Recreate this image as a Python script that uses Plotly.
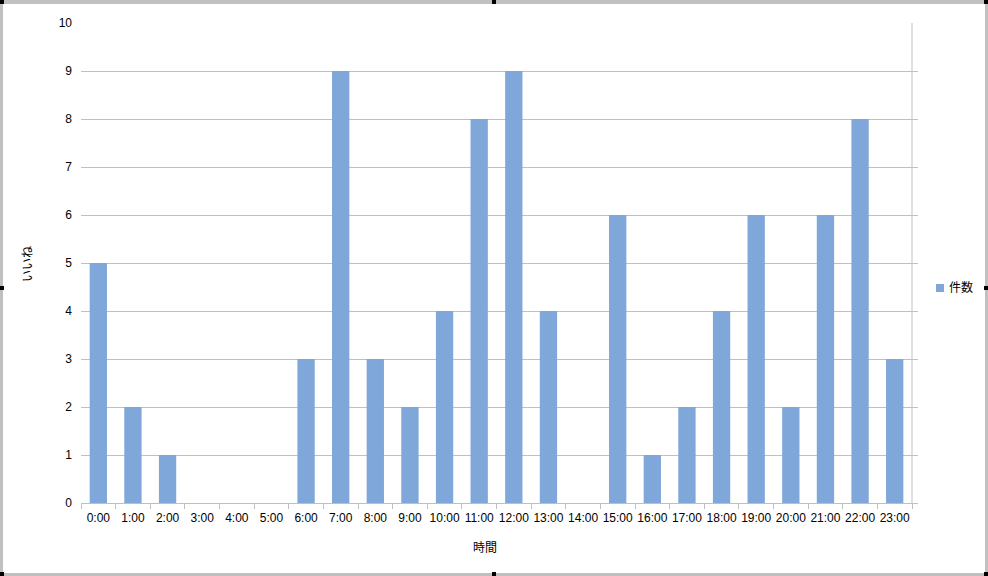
import plotly.graph_objects as go

hours = [f"{h}:00" for h in range(24)]
counts = [5, 2, 1, 0, 0, 0, 3, 9, 3, 2, 4, 8, 9, 4, 0, 6, 1, 2, 4, 6, 2, 6, 8, 3]
series_name = "件数"
x_title = "時間"
y_title = "いいね"
y_ticks = list(range(0, 11))

W, H = 988, 576
L, R, T, B = 81, 918, 23, 503
bar_color = "#7FA7D9"
grid = "#BFBFBF"
font_family = "Liberation Sans, Arial, Noto Sans CJK JP, sans-serif"


def px(x):
    return (x - L) / (R - L)


def py(y):
    return (B - y) / (B - T)


fig = go.Figure()
fig.add_trace(go.Bar(x=hours, y=counts, name=series_name, marker=dict(color=bar_color, line=dict(width=0)),
                     showlegend=False))

shapes = []
# right-side vertical frame line of plot area
shapes.append(dict(type="line", xref="x", yref="y", x0=23.5, x1=23.5, y0=0, y1=10,
                   line=dict(color=grid, width=1)))
# legend symbol
shapes.append(dict(type="rect", xref="paper", yref="paper", x0=px(936), x1=px(944), y0=py(292), y1=py(284),
                   fillcolor=bar_color, line=dict(width=0)))
# outer gray frame
frame = "#C0C0C0"
for (x0, y0, x1, y1) in [(0, 0, 988, 4), (0, 0, 3, 576), (985, 0, 988, 576), (0, 573, 988, 576)]:
    shapes.append(dict(type="rect", xref="paper", yref="paper", x0=px(x0), x1=px(x1), y0=py(y1), y1=py(y0),
                       fillcolor=frame, line=dict(width=0), layer="above"))
# resize handles
for (hx, hy) in [(0, 0), (492, 0), (984, 0), (0, 286), (984, 286), (0, 572), (492, 572), (984, 572)]:
    shapes.append(dict(type="rect", xref="paper", yref="paper", x0=px(hx), x1=px(hx + 4), y0=py(hy + 4), y1=py(hy),
                       fillcolor="#000000", line=dict(width=0), layer="above"))

annotations = [
    dict(text=series_name, xref="paper", yref="paper", x=px(947), y=py(288), xanchor="left", yanchor="middle",
         showarrow=False, font=dict(size=12, color="#000000", family=font_family)),
    dict(text=x_title, xref="paper", yref="paper", x=px(485), y=py(548), xanchor="center", yanchor="middle",
         showarrow=False, font=dict(size=12, color="#000000", family=font_family)),
    dict(text=y_title, xref="paper", yref="paper", x=px(28), y=py(264), xanchor="center", yanchor="middle",
         showarrow=False, textangle=-90, font=dict(size=12, color="#000000", family=font_family)),
]

fig.update_layout(
    width=W, height=H,
    margin=dict(l=L, r=W - R, t=T, b=H - B, pad=0),
    paper_bgcolor="white", plot_bgcolor="white",
    bargap=0.5,
    font=dict(family=font_family, size=12, color="#000000"),
    shapes=shapes,
    annotations=annotations,
    xaxis=dict(type="category", range=[-0.5, 23.5 + 6 / 34.67], showline=True, linecolor=grid, linewidth=1,
               ticks="outside", ticklen=5, tickcolor=grid, tickson="boundaries", showgrid=False,
               tickangle=0, ticklabelstandoff=4, tickfont=dict(size=12, color="#000000"), fixedrange=True),
    yaxis=dict(range=[0, 10], tickvals=y_ticks, showgrid=True, gridcolor=grid, gridwidth=1,
               zeroline=False, showline=False, ticks="", ticklabelstandoff=8,
               tickfont=dict(size=12, color="#000000"), fixedrange=True),
)

fig.write_html("out.html", config={"displayModeBar": False},
               post_script="document.body.style.margin='0';document.body.style.overflow='hidden';")
